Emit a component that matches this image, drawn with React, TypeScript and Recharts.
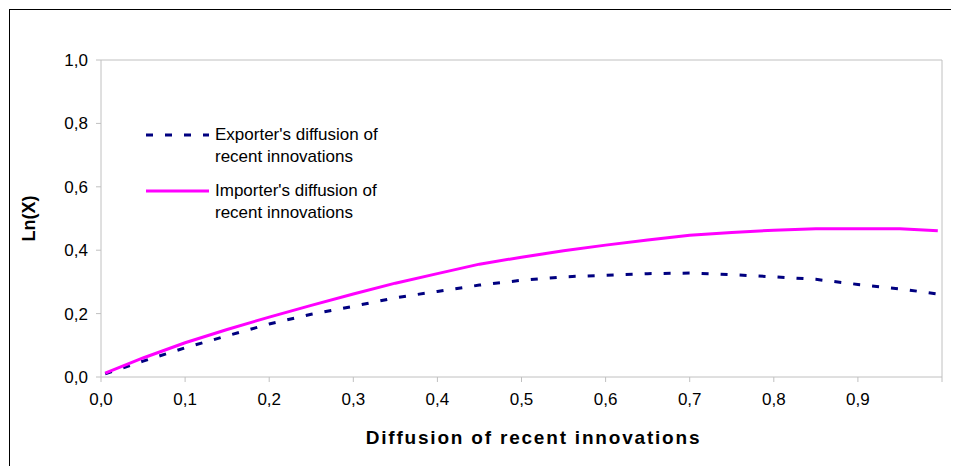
import React from "react"
import {
  LineChart,
  Line,
  XAxis,
  YAxis,
  Legend,
  ReferenceLine,
} from "recharts"

// diffusion levels (x) and Ln(X)
const diffusion = [
  0.005, 0.05, 0.1, 0.15, 0.2, 0.25, 0.3, 0.35, 0.4, 0.45, 0.5, 0.55, 0.6,
  0.65, 0.7, 0.75, 0.8, 0.85, 0.9, 0.95, 0.995,
]
const exporterLn = [
  0.01, 0.05, 0.092, 0.13, 0.167, 0.198, 0.223, 0.25, 0.27, 0.29, 0.305,
  0.316, 0.321, 0.326, 0.328, 0.323, 0.316, 0.308, 0.292, 0.278, 0.262,
]
const importerLn = [
  0.012, 0.06, 0.108, 0.15, 0.189, 0.226, 0.262, 0.296, 0.326, 0.356, 0.378,
  0.398, 0.416, 0.432, 0.447, 0.456, 0.463, 0.468, 0.468, 0.468, 0.461,
]
const xTicks = [0, 0.1, 0.2, 0.3, 0.4, 0.5, 0.6, 0.7, 0.8, 0.9, 1]
const yTicks = [0, 0.2, 0.4, 0.6, 0.8, 1]

const data = diffusion.map((x, i) => ({
  x,
  exporter: exporterLn[i],
  importer: importerLn[i],
}))

const FONT = "'Liberation Sans', Arial, sans-serif"
const GRAY = "#c0c0c0"

const comma = (v: number) => v.toFixed(1).replace(".", ",")

function LegendBox({ payload }: any) {
  return (
    <div style={{ fontFamily: FONT, fontSize: 17, color: "#000" }}>
      {(payload || []).map((entry: any, i: number) => (
        <div
          key={entry.value}
          style={{ display: "flex", marginTop: i === 0 ? 0 : 13 }}
        >
          <svg width={70} height={22} style={{ flex: "none" }}>
            <line
              x1={1}
              x2={64}
              y1={11}
              y2={11}
              stroke={entry.color}
              strokeWidth={3}
              strokeDasharray={entry.payload?.strokeDasharray}
            />
          </svg>
          <div style={{ width: 185, lineHeight: "21.7px" }}>{entry.value}</div>
        </div>
      ))}
    </div>
  )
}

export default function App() {
  return (
    <div
      style={{
        position: "relative",
        left: 1,
        top: 1,
        width: 950,
        height: 457,
        borderLeft: "1px solid #000",
        borderTop: "1px solid #000",
      }}
    >
      <LineChart
        width={949}
        height={456}
        data={data}
        margin={{ top: 50, right: 17, left: 0, bottom: 0 }}
      >
        <XAxis
          dataKey="x"
          type="number"
          domain={[0, 1]}
          ticks={xTicks}
          tickFormatter={(v: number) => (v >= 1 ? "" : comma(v))}
          stroke={GRAY}
          tickSize={5}
          tickMargin={11}
          height={89}
          tick={{ fill: "#000", fontSize: 17, fontFamily: FONT }}
          label={{
            value: "Diffusion of recent innovations",
            position: "center",
            dx: 12,
            dy: 16,
            style: {
              fill: "#000",
              fontSize: 19,
              fontWeight: "bold",
              fontFamily: FONT,
              letterSpacing: 1.8,
            },
          }}
        />
        <YAxis
          type="number"
          domain={[0, 1]}
          ticks={yTicks}
          tickFormatter={comma}
          stroke={GRAY}
          tickSize={5}
          tickMargin={8}
          width={91}
          tick={{ fill: "#000", fontSize: 17, fontFamily: FONT }}
          label={{
            value: "Ln(X)",
            angle: -90,
            position: "center",
            dx: -27,
            style: {
              fill: "#000",
              fontSize: 18,
              fontWeight: "bold",
              fontFamily: FONT,
            },
          }}
        />
        <ReferenceLine y={1} stroke={GRAY} />
        <ReferenceLine x={1} stroke={GRAY} />
        <Legend
          layout="vertical"
          verticalAlign="middle"
          align="center"
          content={<LegendBox />}
          wrapperStyle={{ left: 135, top: 114, width: 280 }}
        />
        <Line
          type="linear"
          dataKey="exporter"
          name="Exporter's diffusion of recent innovations"
          stroke="#000080"
          strokeWidth={3}
          strokeDasharray="7 12"
          dot={false}
          isAnimationActive={false}
        />
        <Line
          type="linear"
          dataKey="importer"
          name="Importer's diffusion of recent innovations"
          stroke="#ff00ff"
          strokeWidth={3}
          dot={false}
          isAnimationActive={false}
        />
      </LineChart>
    </div>
  )
}
